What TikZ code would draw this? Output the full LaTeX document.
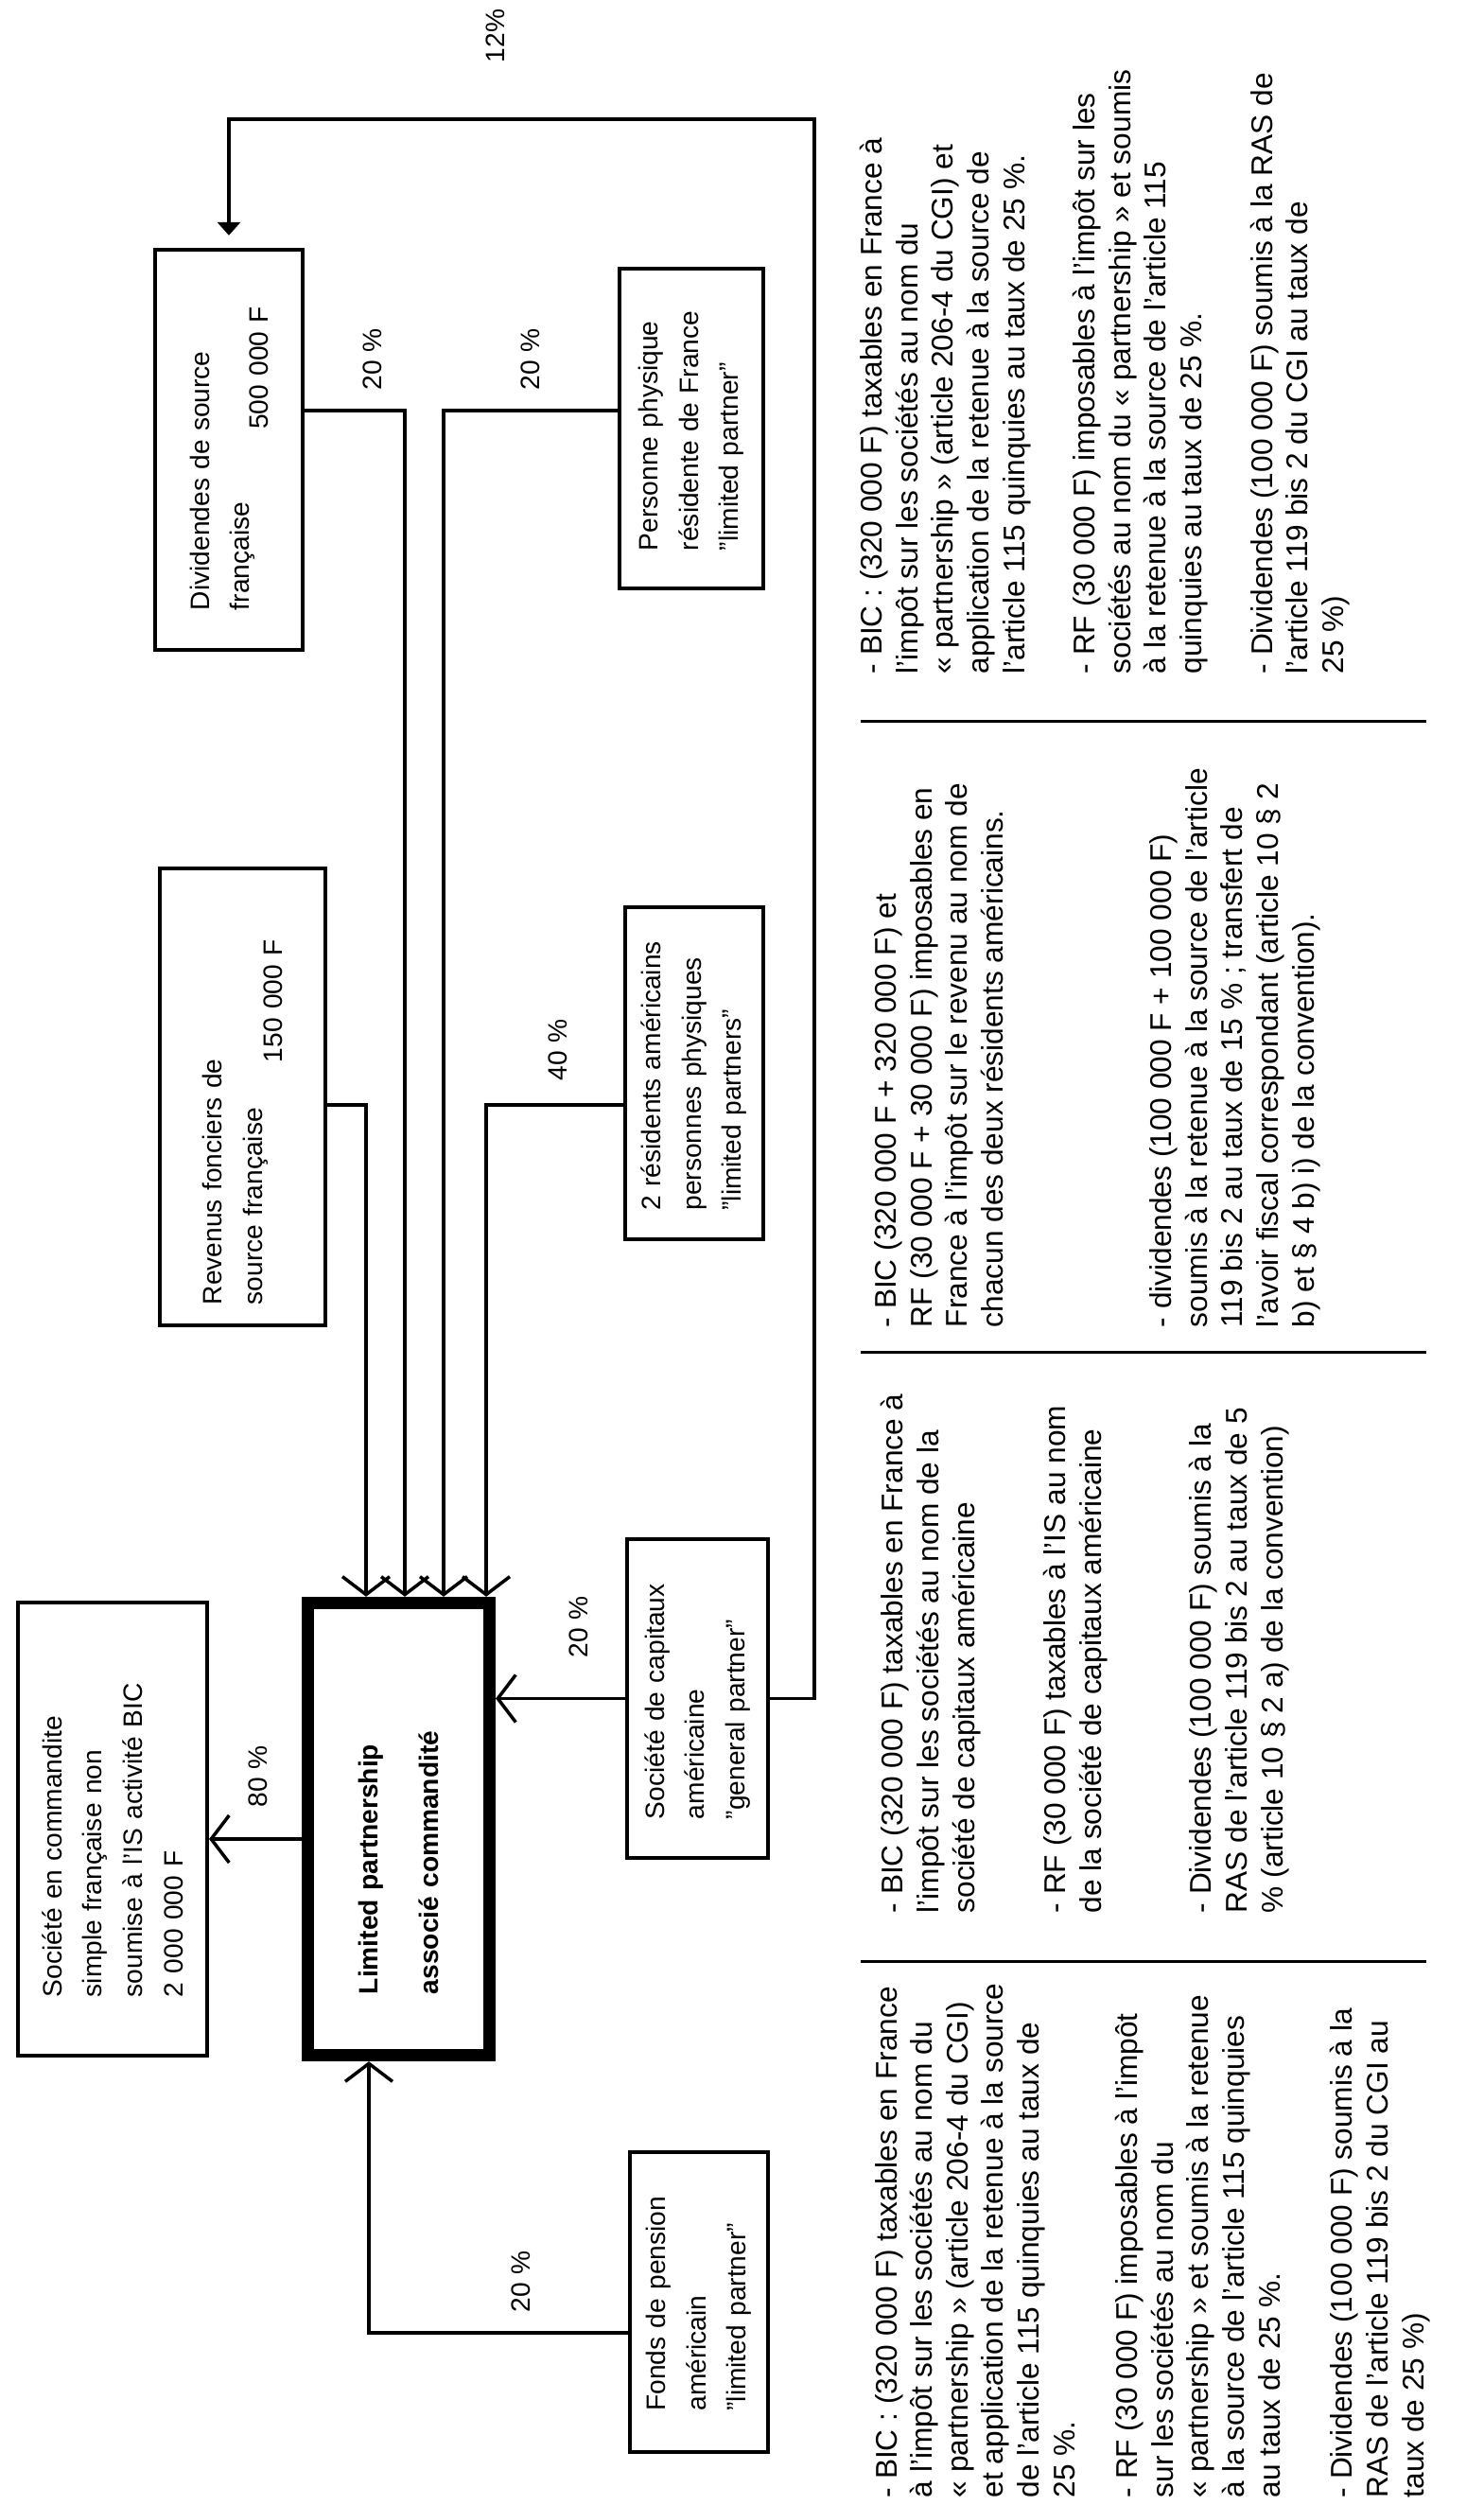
\documentclass[tikz,border=0pt]{standalone}
\usepackage{fontspec}
\setmainfont{Liberation Sans}
\usetikzlibrary{arrows.meta}

\tikzset{
  boite/.style={draw, line width=0.04cm, align=left, inner sep=0pt,
    font=\fontsize{8}{12.1}\selectfont},
  taux/.style={inner sep=0pt, font=\fontsize{8}{9.6}\selectfont},
  note/.style={anchor=base west, align=left, inner sep=0pt,
    font=\fontsize{9}{10.67}\selectfont},
  lien/.style={line width=0.035cm},
  fleche/.style={lien, -{Straight Barb[length=0.19cm, width=0.5cm]}},
  retour/.style={lien, -{Triangle[length=0.14cm, width=0.24cm]}, shorten >=0.13cm},
  filet/.style={line width=0.03cm}
}

\begin{document}
\begin{tikzpicture}[rotate=90, transform shape, x=0.01cm, y=-0.01cm]
    \useasboundingbox (0,0) rectangle (2648,1568);

    % Sources de revenus
    \node[boite, minimum width=4.23cm, minimum height=1.56cm, text width=3.39cm] (div) at (2172.5,242)
        {Dividendes de source\\ française\hspace{0.77cm}\raisebox{-5.5pt}{500 000 F}};
    \node[boite, minimum width=4.83cm, minimum height=1.75cm, text width=4.39cm] (rev) at (1488.5,256.5)
        {Revenus fonciers de\\ source française\hspace{0.48cm}\raisebox{-6pt}{150 000 F}};

    % Associés
    \node[boite, minimum width=3.38cm, minimum height=1.52cm, text width=2.58cm] (per) at (2195,731)
        {Personne physique\\ résidente de France\\ "limited partner"};
    \node[boite, minimum width=3.51cm, minimum height=1.46cm, text width=2.9cm] (res) at (1513.5,734)
        {2 résidents américains\\ personnes physiques\\ "limited partners"};
    \node[boite, minimum width=3.37cm, minimum height=1.49cm, text width=2.55cm] (soc) at (852.5,737.5)
        {Société de capitaux\\ américaine\\ "general partner"};
    \node[boite, minimum width=3.17cm, minimum height=1.46cm, text width=2.3cm] (fonds) at (214.5,739)
        {Fonds de pension\\ américain\\ "limited partner"};

    % Partnership et filiale
    \node[boite, line width=0.13cm, minimum width=4.78cm, minimum height=1.92cm, text width=3.49cm,
        font=\fontsize{8}{18.1}\selectfont\bfseries] (lp) at (714.5,421.5)
        {Limited partnership\\ associé commandité};
    \node[boite, minimum width=4.79cm, minimum height=2.0cm, text width=3.55cm] (sec) at (714.5,119)
        {Société en commandite\\ simple française non\\ soumise à l'IS activité BIC\\ 2 000 000 F};

    % Flux vers la partnership
    \draw[fleche] (1480,0 |- rev.south) -- (1480,387) -- (1480,387 -| lp.east);
    \draw[fleche] (2214,0 |- div.south) -- (2214,428) -- (2214,428 -| lp.east);
    \draw[fleche] (2214,0 |- per.north) -- (2214,469) -- (2214,469 -| lp.east);
    \draw[fleche] (1480,0 |- res.north) -- (1480,514) -- (1480,514 -| lp.east);
    \draw[fleche] (soc.north) -- (soc.north |- lp.south);
    \draw[fleche] (182,0 |- fonds.north) -- (182,390) -- (182,390 -| lp.west);
    \draw[fleche] (704,0 |- lp.north) -- (704,0 |- sec.south);

    % Participation de la societe de capitaux
    \draw[retour] (soc.south) -- (soc.south |- 0,861) -- (2522,861) -- (2522,0 |- div.east) -- (div.east);

    % Pourcentages
    \node[taux] (p1) at (2268,394) {20 \%};
    \node[taux] (p2) at (2268,561) {20 \%};
    \node[taux] (p3) at (1538,590) {40 \%};
    \node[taux] (p4) at (770,273) {80 \%};
    \node[taux] (p5) at (928,612) {20 \%};
    \node[taux] (p6) at (236,551) {20 \%};
    \node[taux] (p7) at (2610,524) {12\%};

    % Filets entre les colonnes
    \draw[filet] (1885,910) -- (1885,1508);
    \draw[filet] (1218,910) -- (1218,1508);
    \draw[filet] (574,910) -- (574,1508);

    % Regime fiscal : personne physique residente (ligne de base = derniere ligne)
    \node[note] (a1) at (1935,1083) {- BIC : (320 000 F) taxables en France à\\ l'impôt sur les sociétés au nom du\\ « partnership » (article 206-4 du CGI) et\\ application de la retenue à la source de\\ l'article 115 quinquies au taux de 25 \%.};
    \node[note] (a2) at (1935,1270.5) {- RF (30 000 F) imposables à l'impôt sur les\\ sociétés au nom du « partnership » et soumis\\ à la retenue à la source de l'article 115\\ quinquies au taux de 25 \%.};
    \node[note] (a3) at (1935,1420.5) {- Dividendes (100 000 F) soumis à la RAS de\\ l'article 119 bis 2 du CGI au taux de\\ 25 \%)};

    % Regime fiscal : residents americains
    \node[note] (b1) at (1244,1060.5) {- BIC (320 000 F + 320 000 F) et\\ RF (30 000 F + 30 000 F) imposables en\\ France à l'impôt sur le revenu au nom de\\ chacun des deux résidents américains.};
    \node[note] (b2) at (1244,1389) {- dividendes (100 000 F + 100 000 F)\\ soumis à la retenue à la source de l'article\\ 119 bis 2 au taux de 15 \% ; transfert de\\ l'avoir fiscal correspondant (article 10 § 2\\ b) et § 4 b) i) de la convention).};

    % Regime fiscal : societe de capitaux
    \node[note] (c1) at (625,1030) {- BIC (320 000 F) taxables en France à\\ l'impôt sur les sociétés au nom de la\\ société de capitaux américaine};
    \node[note] (c2) at (625,1164) {- RF (30 000 F) taxables à l'IS au nom\\ de la société de capitaux américaine};
    \node[note] (c3) at (625,1356) {- Dividendes (100 000 F) soumis à la\\ RAS de l'article 119 bis 2 au taux de 5\\ \% (article 10 § 2 a) de la convention)};

    % Regime fiscal : fonds de pension
    \node[note] (d1) at (7,1136) {- BIC : (320 000 F) taxables en France\\ à l'impôt sur les sociétés au nom du\\ « partnership » (article 206-4 du CGI)\\ et application de la retenue à la source\\ de l'article 115 quinquies au taux de\\ 25 \%.};
    \node[note] (d2) at (7,1353) {- RF (30 000 F) imposables à l'impôt\\ sur les sociétés au nom du\\ « partnership » et soumis à la retenue\\ à la source de l'article 115 quinquies\\ au taux de 25 \%.};
    \node[note] (d3) at (7,1505) {- Dividendes (100 000 F) soumis à la\\ RAS de l'article 119 bis 2 du CGI au\\ taux de 25 \%)};
\end{tikzpicture}
\end{document}
